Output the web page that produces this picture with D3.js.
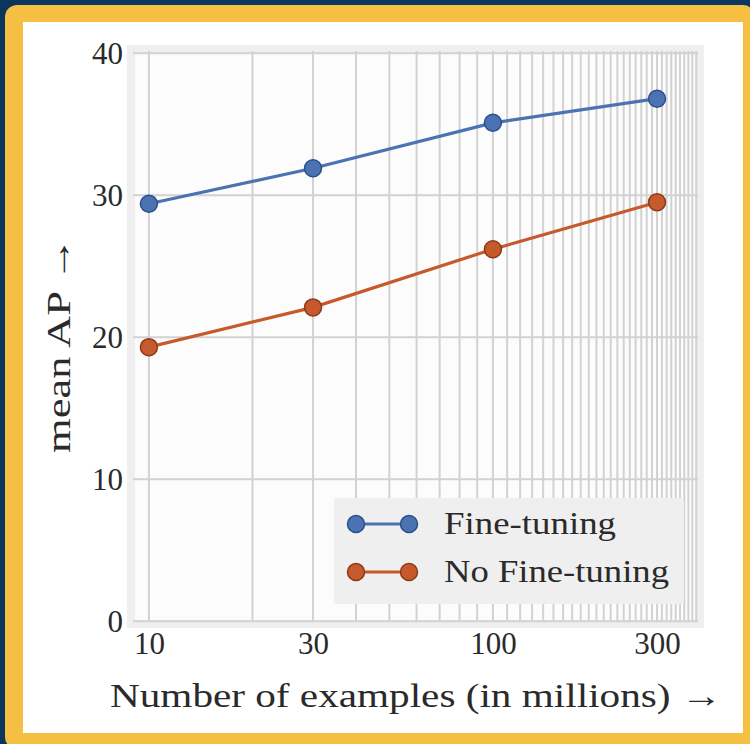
<!DOCTYPE html>
<html>
<head>
<meta charset="utf-8">
<script src="https://cdn.jsdelivr.net/npm/d3@7"></script>
<style>
  body { margin: 0; background: #0b345e; }
  svg { display: block; }
  text { font-family: "Times New Roman", Times, "Liberation Serif", serif; fill: #2a2a2a; }
</style>
</head>
<body>
<div class="canvas"></div>
<script>
// data
let examples = [10, 30, 100, 300];
let fineTuning = [29.4, 31.9, 35.1, 36.8];
let noFineTuning = [19.3, 22.1, 26.2, 29.5];
let seriesNames = ['Fine-tuning', 'No Fine-tuning'];
let yTicks = [0, 10, 20, 30, 40];
let xTickLabels = ['10', '30', '100', '300'];

const width = 750, height = 744;
const plot = { left: 131, right: 700, top: 49, bottom: 624 };
const colors = ['#4b73b2', '#c65a2c'];
const edges = ['#2c4f8c', '#8c3a1a'];
const serif = '"Times New Roman", Times, "Liberation Serif", serif';

let svg = d3.select('.canvas')
  .append('svg')
  .attr('width', width)
  .attr('height', height);

// frame
svg.append('rect')
  .attr('x', 5).attr('y', 5)
  .attr('width', width).attr('height', height)
  .attr('rx', 12)
  .attr('fill', '#f4bf42');
svg.append('rect')
  .attr('x', 23).attr('y', 22)
  .attr('width', 720).attr('height', 711)
  .attr('fill', '#ffffff');

let xScale = d3.scaleLog()
  .domain([8.87, 400])
  .range([plot.left, plot.right]);

let yScale = d3.scaleLinear()
  .domain([-0.2, 40.3])
  .range([plot.bottom, plot.top]);

// plot background with soft frame
svg.append('rect')
  .attr('x', plot.left).attr('y', plot.top)
  .attr('width', plot.right - plot.left)
  .attr('height', plot.bottom - plot.top)
  .attr('fill', '#fcfcfc')
  .attr('stroke', '#efefef')
  .attr('stroke-width', 8);

// grid: every 10 million on the log axis
let xGrid = d3.range(10, 400, 10);
svg.append('g')
  .selectAll('line')
  .data(xGrid)
  .enter()
  .append('line')
  .attr('x1', d => xScale(d)).attr('x2', d => xScale(d))
  .attr('y1', plot.top + 2).attr('y2', plot.bottom - 2)
  .attr('stroke', '#d2d2d2')
  .attr('stroke-width', 2);

svg.append('g')
  .selectAll('line')
  .data(yTicks)
  .enter()
  .append('line')
  .attr('x1', plot.left + 2).attr('x2', plot.right - 2)
  .attr('y1', d => yScale(d)).attr('y2', d => yScale(d))
  .attr('stroke', '#d2d2d2')
  .attr('stroke-width', 2);

// axes (labels only)
let yAxis = svg.append('g')
  .attr('transform', `translate(${plot.left - 8}, 0)`)
  .call(d3.axisLeft(yScale).tickValues(yTicks).tickSize(0).tickPadding(0));
yAxis.select('.domain').remove();
yAxis.selectAll('text')
  .style('font-family', serif)
  .style('font-size', '31px')
  .attr('fill', '#2a2a2a');

let xAxis = svg.append('g')
  .attr('transform', `translate(0, ${plot.bottom + 8})`)
  .call(d3.axisBottom(xScale).tickValues(examples).tickFormat((d, i) => xTickLabels[i]).tickSize(0).tickPadding(0));
xAxis.select('.domain').remove();
xAxis.selectAll('text')
  .style('font-family', serif)
  .style('font-size', '31px')
  .attr('fill', '#2a2a2a');

// titles
svg.append('text')
  .attr('x', 110)
  .attr('y', 707)
  .attr('textLength', 612)
  .attr('lengthAdjust', 'spacingAndGlyphs')
  .style('font-size', '34px')
  .text('Number of examples (in millions) \u2192');

svg.append('text')
  .attr('transform', 'rotate(-90)')
  .attr('x', -453)
  .attr('y', 70)
  .attr('textLength', 216)
  .attr('lengthAdjust', 'spacingAndGlyphs')
  .style('font-size', '34px')
  .text('mean AP \u2192');

// lines and markers
let series = [fineTuning, noFineTuning];
let line = d3.line()
  .x((d, i) => xScale(examples[i]))
  .y(d => yScale(d));

series.forEach((values, s) => {
  svg.append('path')
    .datum(values)
    .attr('d', line)
    .attr('fill', 'none')
    .attr('stroke', colors[s])
    .attr('stroke-width', 3.2);

  svg.append('g')
    .selectAll('circle')
    .data(values)
    .enter()
    .append('circle')
    .attr('cx', (d, i) => xScale(examples[i]))
    .attr('cy', d => yScale(d))
    .attr('r', 8.5)
    .attr('fill', colors[s])
    .attr('stroke', edges[s])
    .attr('stroke-width', 1.5);
});

// legend
let legend = svg.append('g')
  .attr('transform', 'translate(334, 498)');
legend.append('rect')
  .attr('width', 350)
  .attr('height', 106)
  .attr('rx', 3)
  .attr('fill', '#efefef');

let legendItems = legend.selectAll('.legend-item')
  .data(seriesNames)
  .enter()
  .append('g')
  .attr('class', 'legend-item')
  .attr('transform', (d, i) => `translate(0, ${26 + i * 48})`);

legendItems.append('line')
  .attr('x1', 22).attr('x2', 75)
  .attr('stroke', (d, i) => colors[i])
  .attr('stroke-width', 3.2);
legendItems.each(function (d, i) {
  d3.select(this).selectAll('circle')
    .data([22, 75])
    .enter()
    .append('circle')
    .attr('cx', c => c)
    .attr('cy', 0)
    .attr('r', 8.5)
    .attr('fill', colors[i])
    .attr('stroke', edges[i])
    .attr('stroke-width', 1.5);
});
legendItems.append('text')
  .attr('x', 110)
  .attr('y', 10)
  .attr('textLength', (d, i) => i === 0 ? 172 : 225)
  .attr('lengthAdjust', 'spacingAndGlyphs')
  .style('font-size', '31px')
  .text(d => d);
</script>
</body>
</html>
